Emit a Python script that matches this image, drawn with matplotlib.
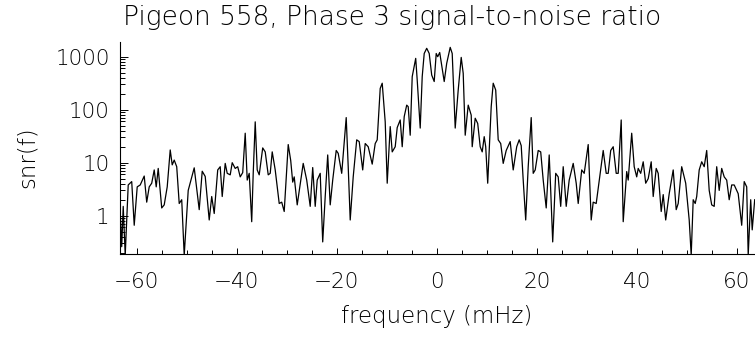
import numpy as np
import matplotlib
matplotlib.use("Agg")
import matplotlib.pyplot as plt
from matplotlib.ticker import MultipleLocator, FixedLocator, FuncFormatter

# values (frequency in mHz, snr)
freq = [
    -63.4, -63.0, -62.7, -62.3, -61.7, -61.0, -60.5, -59.9, -59.3, -58.5,
    -58.0, -57.5, -57.0, -56.5, -56.1, -55.7, -55.0, -54.5, -53.9, -53.3,
    -52.9, -52.5, -52.0, -51.5, -51.0, -50.5, -49.7, -48.5, -47.5, -46.9,
    -46.3, -45.5, -45.0, -44.5, -43.8, -43.3, -42.9, -42.3, -41.9, -41.3,
    -40.9, -40.3, -39.8, -39.3, -38.8, -38.3, -37.9, -37.5, -37.0, -36.7,
    -36.3, -35.9, -35.5, -34.8, -34.3, -33.7, -33.3, -32.9, -32.3, -31.5,
    -31.0, -30.5, -29.7, -29.2, -28.8, -28.5, -27.9, -26.7, -26.0, -25.3,
    -24.8, -24.3, -23.9, -23.3, -22.8, -22.3, -21.8, -21.3, -20.8, -20.1,
    -19.7, -19.0, -18.1, -17.7, -17.3, -16.7, -16.0, -15.5, -14.8, -14.3,
    -13.7, -12.9, -12.3, -11.9, -11.3, -10.9, -10.3, -9.9, -9.3, -8.9,
    -8.3, -7.9, -7.3, -6.9, -6.5, -6.0, -5.7, -5.3, -4.9, -4.2,
    -3.9, -3.3, -2.9, -2.5, -2.0, -1.5, -1.0, -0.5, -0.1, 0.2,
    0.6, 1.1, 1.5, 2.0, 2.7, 3.1, 3.7, 4.3, 4.9, 5.3,
    5.7, 6.3, 6.9, 7.1, 7.7, 8.2, 8.7, 9.1, 9.5, 9.8,
    10.2, 10.9, 11.3, 11.8, 12.3, 12.8, 13.3, 13.9, 14.7, 15.3,
    16.0, 16.5, 16.9, 17.3, 17.8, 18.3, 18.9, 19.3, 19.7, 20.3,
    20.8, 21.3, 21.9, 22.5, 22.8, 23.2, 23.8, 24.3, 24.8, 25.3,
    25.9, 26.5, 27.3, 27.9, 28.3, 29.0, 29.5, 30.3, 30.9, 31.3,
    31.9, 32.7, 33.3, 33.9, 34.3, 34.8, 35.3, 35.9, 36.3, 36.9,
    37.3, 38.0, 38.3, 39.0, 39.5, 40.0, 40.3, 40.8, 41.3, 41.8,
    42.3, 42.9, 43.3, 43.9, 44.3, 44.9, 45.3, 45.8, 46.5, 47.3,
    47.9, 48.3, 49.0, 49.8, 50.5, 50.9, 51.3, 51.7, 52.0, 52.5,
    53.0, 53.5, 54.0, 54.5, 55.0, 55.5, 56.0, 56.5, 57.0, 57.5,
    58.0, 58.5, 59.0, 59.5, 60.3, 61.0, 61.5, 62.0, 62.3, 62.8,
    63.1, 63.6,
]
snr = [
    2.0, 0.26, 1.5, 0.18, 3.8, 4.4, 0.66, 3.5, 3.8, 5.6,
    1.8, 3.5, 4.1, 7.3, 3.5, 7.8, 1.4, 1.6, 3.5, 17.4,
    9.1, 11.2, 8.4, 1.7, 2.0, 0.18, 3.0, 8.0, 1.3, 6.9,
    5.5, 0.83, 2.3, 1.1, 7.3, 8.4, 2.3, 9.7, 6.3, 5.9,
    10.0, 7.8, 8.4, 5.4, 6.5, 36, 4.7, 6.3, 0.77, 6.3,
    59, 7.3, 5.9, 19, 16, 5.9, 6.3, 16, 7.3, 1.7,
    1.8, 1.2, 22, 11, 4.3, 5.4, 1.6, 9.7, 4.7, 1.5,
    8.1, 1.5, 4.7, 6.3, 0.32, 2.3, 14, 1.6, 4.7, 17,
    15, 6.3, 71, 8.4, 0.83, 5.4, 27, 25, 7.3, 23,
    20, 9.4, 23, 27, 252, 316, 59, 4.1, 48, 16,
    20, 46, 64, 20, 74, 122, 114, 33, 420, 930,
    363, 45, 420, 1150, 1440, 1150, 450, 340, 1150, 1000,
    1200, 600, 340, 750, 1500, 1150, 45, 235, 970, 485,
    33, 122, 79, 20, 69, 55, 20, 16, 31, 20,
    4.1, 114, 316, 235, 27, 23, 9.7, 17, 25, 7.3,
    20, 27, 21, 4.7, 0.83, 8.4, 71, 6.3, 7.3, 17,
    16, 4.7, 1.4, 14, 3.0, 0.32, 6.3, 5.4, 1.5, 8.4,
    1.5, 4.7, 9.7, 4.1, 1.7, 7.3, 6.3, 22, 0.83, 1.8,
    1.7, 6.3, 17, 6.3, 6.3, 17, 20, 6.3, 6.3, 64,
    0.77, 6.8, 4.7, 36, 8.4, 5.4, 7.8, 6.3, 10.4, 4.1,
    5.0, 10.4, 2.3, 7.8, 6.3, 1.2, 2.5, 0.83, 2.6, 7.3,
    1.3, 1.7, 8.4, 4.1, 0.83, 0.18, 2.0, 1.7, 2.3, 7.3,
    10.4, 8.4, 17, 3.0, 1.6, 1.5, 8.4, 3.0, 7.8, 5.4,
    4.7, 2.0, 3.8, 3.8, 2.6, 0.66, 4.4, 3.5, 0.18, 2.0,
    0.54, 2.0,
]
ytick_vals = [1, 10, 100, 1000]

# thin-stroke font to look like the IDL vector font
plt.rcParams['font.family'] = ['DejaVu Sans']
plt.rcParams['font.weight'] = 'light'

fig = plt.figure(figsize=(7.55, 3.41), dpi=100)
ax = fig.add_axes([0.1583, 0.2543, 0.8417, 0.6225])

ax.plot(freq, snr, color='black', lw=0.9)
ax.set_yscale('log')
ax.set_xlim(-63.44, 63.66)
ax.set_ylim(0.187, 1893)

for s in ['top', 'right']:
    ax.spines[s].set_visible(False)
for s in ['left', 'bottom']:
    ax.spines[s].set_linewidth(0.8)

ax.xaxis.set_major_locator(MultipleLocator(20))
ax.xaxis.set_minor_locator(MultipleLocator(5))
ax.yaxis.set_major_locator(FixedLocator(ytick_vals))
ax.yaxis.set_major_formatter(FuncFormatter(lambda v, p: f"{v:g}"))
ax.yaxis.set_minor_locator(matplotlib.ticker.LogLocator(subs=np.arange(2, 10)))
ax.yaxis.set_minor_formatter(matplotlib.ticker.NullFormatter())

ax.tick_params(axis='x', which='major', direction='in', length=4, width=0.7,
               labelsize=15.5, pad=13)
ax.tick_params(axis='x', which='minor', direction='in', length=3, width=0.7)
ax.tick_params(axis='y', which='major', direction='in', length=5.5, width=0.7,
               labelsize=15.5, pad=7)
ax.tick_params(axis='y', which='minor', direction='in', length=3.6, width=0.7)

fig.text(123 / 755, 1 - 25 / 341, "Pigeon 558, Phase 3 signal-to-noise ratio",
         fontsize=19, ha='left', va='baseline')
fig.text(27 / 755, 1 - 157 / 341, "snr(f)", fontsize=16.5, rotation=90,
         ha='center', va='center')
fig.text(437 / 755, 1 - 317 / 341, "frequency (mHz)", fontsize=16.5,
         ha='center', va='center')

fig.savefig("out.png", dpi=100)
